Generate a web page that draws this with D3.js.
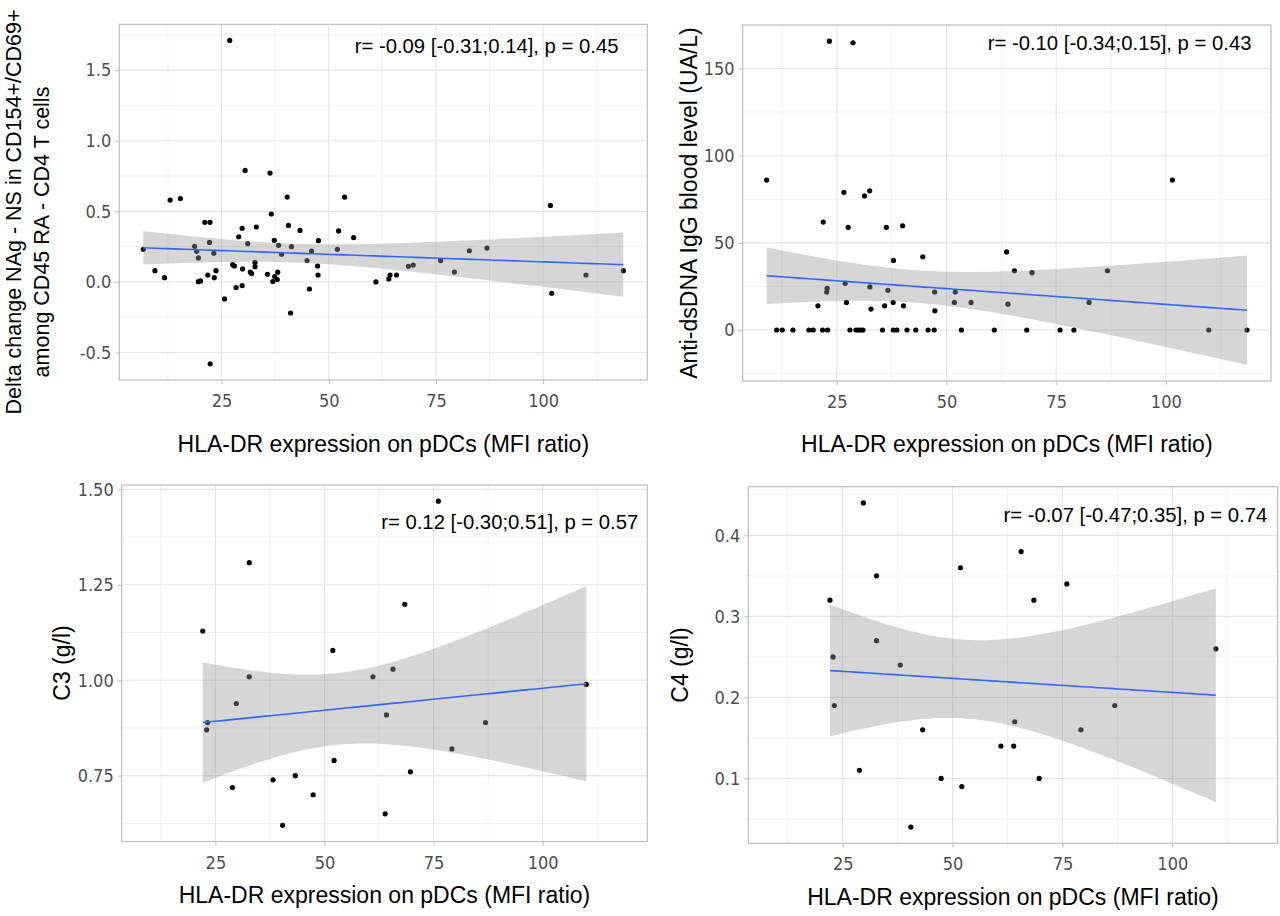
<!DOCTYPE html>
<html><head><meta charset="utf-8">
<script src="https://cdn.jsdelivr.net/npm/d3@7"></script>
<style>
html,body{margin:0;padding:0;background:#fff;}
svg{display:block;}
.tick-lab{font-family:'DejaVu Sans Condensed','DejaVu Sans',sans-serif;font-stretch:condensed;font-size:18px;fill:#4d4d4d;}
.ttl{font-family:'Liberation Sans',Arial,sans-serif;fill:#000;}
.ann{font-family:'Liberation Sans',Arial,sans-serif;font-size:20.3px;fill:#000;}
</style></head>
<body>
<svg id="chart" width="1280" height="916"></svg>
<script>
// ---------- DATA ----------
const xTickValues = [25, 50, 75, 100];
const xTitleText = "HLA-DR expression on pDCs (MFI ratio)";

// Panel A: Delta change NAg - NS
const deltaX = [6.75,9.47,11.7,13.0,15.4,18.7,19.2,19.6,19.6,20.1,21.1,22.3,22.2,23.2,21.8,23.3,23.7,22.35,26.9,25.7,27.6,28.0,28.4,29.0,29.8,29.9,29.8,30.5,31.1,31.7,32.0,32.8,32.8,33.1,35.7,36.3,36.6,37.3,36.96,37.4,38.0,38.1,38.3,39.0,40.3,40.6,41.1,41.3,43.3,44.95,45.5,46.0,47.6,47.4,47.5,52.0,52.3,53.7,55.8,61.0,64.0,64.3,65.8,68.6,69.7,76.1,79.3,82.8,86.9,101.7,102.0,110.0,118.7];
const deltaY = [0.231,0.08,0.03,0.58,0.59,0.252,0.217,0.17,0.002,0.007,0.422,0.422,0.28,0.203,0.049,0.03,0.08,-0.58,1.71,-0.12,0.122,0.113,-0.04,0.32,0.38,0.092,-0.026,0.79,0.271,0.07,0.059,0.139,0.108,0.389,0.054,0.771,0.481,0.295,0.003,0.038,0.017,0.069,0.259,0.196,0.601,0.40,-0.22,0.25,0.365,0.151,-0.05,0.219,0.292,0.113,0.049,0.231,0.361,0.601,0.314,0.0,0.021,0.049,0.049,0.111,0.12,0.151,0.07,0.221,0.24,0.542,-0.08,0.049,0.08];
const deltaYTicks = [-0.5, 0, 0.5, 1.0, 1.5];
const deltaYTickLabels = ["-0.5","0.0","0.5","1.0","1.5"];
const deltaYTitle = ["Delta change NAg - NS  in CD154+/CD69+", "among CD45 RA - CD4 T cells"];

// Panel B: anti-dsDNA IgG
const dsdnaX = [11.28,12.57,15.0,18.65,19.63,21.76,22.9,28.0,29.36,29.9,30.5,30.96,35.4,37.87,38.7,41.0,43.0,45.8,47.2,53.4,60.9,68.3,75.9,79.05,109.8,118.5,
  9.0,23.3,28.7,26.6,31.3,32.5,21.9,27.6,36.3,40.0,37.9,44.6,26.9,22.8,22.7,32.55,36.65,47.3,52.0,20.7,27.2,32.8,35.9,37.85,40.2,47.35,51.8,55.6,63.7,65.5,64.0,69.5,86.7,82.5,101.5];
const dsdnaY = [0,0,0,0,0,0,0,0,0,0,0,0,0,0,0,0,0,0,0,0,0,0,0,0,0,0,
  86.0,165.7,164.8,79.0,76.9,79.9,61.9,58.9,58.9,59.8,39.9,42.0,26.8,23.9,21.8,24.7,22.8,21.8,21.8,13.9,15.8,12.0,13.9,15.8,13.9,11.0,15.8,15.8,44.8,34.0,14.8,32.9,34.0,15.8,86.0];
const dsdnaYTicks = [0, 50, 100, 150];
const dsdnaYTickLabels = ["0","50","100","150"];
const dsdnaYTitle = ["Anti-dsDNA IgG blood level (UA/L)"];

// Panel C: C3
const c3X = [22.1,32.75,32.75,29.8,23.2,23.0,28.9,38.2,43.3,40.4,47.4,51.9,52.2,61.1,65.7,64.2,63.9,68.4,69.7,76.1,79.2,86.9,110.0];
const c3Y = [1.129,1.308,1.009,0.939,0.889,0.87,0.719,0.739,0.75,0.62,0.70,1.078,0.79,1.009,1.029,0.909,0.65,1.199,0.76,1.469,0.82,0.889,0.989];
const c3YTicks = [0.75, 1.00, 1.25, 1.50];
const c3YTickLabels = ["0.75","1.00","1.25","1.50"];
const c3YTitle = ["C3 (g/l)"];

// Panel D: C4
const c4X = [29.7,22.1,32.7,51.8,65.6,32.7,22.8,38.1,23.1,43.2,28.8,47.4,52.1,40.5,61.0,63.9,64.15,68.5,76.0,109.9,86.9,79.2,69.7];
const c4Y = [0.44,0.32,0.35,0.36,0.38,0.27,0.25,0.24,0.19,0.16,0.11,0.10,0.09,0.04,0.14,0.14,0.17,0.32,0.34,0.26,0.19,0.16,0.10];
const c4YTicks = [0.1, 0.2, 0.3, 0.4];
const c4YTickLabels = ["0.1","0.2","0.3","0.4"];
const c4YTitle = ["C4 (g/l)"];

const annotationTexts = [
  "r= -0.09 [-0.31;0.14], p = 0.45",
  "r= -0.10 [-0.34;0.15], p = 0.43",
  "r= 0.12 [-0.30;0.51], p = 0.57",
  "r= -0.07 [-0.47;0.35], p = 0.74"
];

// ---------- LAYOUT ----------
const panels = [
  {x: deltaX, y: deltaY, xTrain: deltaX, yTicks: deltaYTicks, yLab: deltaYTickLabels, yTitle: deltaYTitle, ann: annotationTexts[0],
   box:{l:119.3, r:647.3, t:24.3, b:380}, annX:618.5, annY:52.5, xTitleY:451.5,
   yTitlePos:[{x:21, y:212, fs:21.5},{x:49, y:232, fs:21.5}]},
  {x: dsdnaX, y: dsdnaY, xTrain: dsdnaX, yTicks: dsdnaYTicks, yLab: dsdnaYTickLabels, yTitle: dsdnaYTitle, ann: annotationTexts[1],
   box:{l:742.6, r:1271, t:25, b:381}, annX:1251.5, annY:49.5, xTitleY:452,
   yTitlePos:[{x:697, y:203, fs:23}]},
  {x: c3X, y: c3Y, xTrain: dsdnaX, yTicks: c3YTicks, yLab: c3YTickLabels, yTitle: c3YTitle, ann: annotationTexts[2],
   box:{l:121.7, r:647.3, t:485, b:841.5}, annX:638.3, annY:529, xTitleY:903,
   yTitlePos:[{x:70, y:663, fs:23}]},
  {x: c4X, y: c4Y, xTrain: dsdnaX, yTicks: c4YTicks, yLab: c4YTickLabels, yTitle: c4YTitle, ann: annotationTexts[3],
   box:{l:748.3, r:1277.7, t:486.7, b:843.3}, annX:1267.3, annY:521.7, xTitleY:905,
   yTitlePos:[{x:688, y:665, fs:23}]}
];

// t quantile (0.975) via Cornish-Fisher expansion
function tQuant(df){
  const z = 1.959964, z3=z*z*z, z5=z3*z*z, z7=z5*z*z;
  const g1=(z3+z)/4, g2=(5*z5+16*z3+3*z)/96, g3=(3*z7+19*z5+17*z3-15*z)/384;
  return z + g1/df + g2/(df*df) + g3/(df*df*df);
}
// linear model smoother like geom_smooth(method="lm")
function lmBand(xs, ys){
  const n = xs.length, mx = d3.mean(xs), my = d3.mean(ys);
  let sxx=0, sxy=0;
  for(let i=0;i<n;i++){ sxx += (xs[i]-mx)**2; sxy += (xs[i]-mx)*(ys[i]-my); }
  const b = sxy/sxx, a = my - b*mx;
  let rss=0; for(let i=0;i<n;i++){ rss += (ys[i]-a-b*xs[i])**2; }
  const s = Math.sqrt(rss/(n-2)), t = tQuant(n-2);
  const [x0,x1] = d3.extent(xs);
  return d3.range(80).map(k=>{
    const xv = x0 + (x1-x0)*k/79;
    const f = a + b*xv;
    const se = s*Math.sqrt(1/n + (xv-mx)**2/sxx);
    return {x:xv, fit:f, lo:f - t*se, hi:f + t*se};
  });
}
function expand(ext){ const d = ext[1]-ext[0]; return [ext[0]-0.05*d, ext[1]+0.05*d]; }
function minorBreaks(majors, dom){
  const step = majors[1]-majors[0];
  let b = majors.slice();
  if (dom[0] < b[0]) b.unshift(b[0]-step);
  if (dom[1] > b[b.length-1]) b.push(b[b.length-1]+step);
  const m = [];
  for(let i=0;i<b.length-1;i++){ const v=(b[i]+b[i+1])/2; if(v>=dom[0] && v<=dom[1]) m.push(v); }
  return m;
}

const svg = d3.select("#chart");
svg.append("rect").attr("width",1280).attr("height",916).attr("fill","#fff");

panels.forEach(p=>{
  const band = lmBand(p.x, p.y);
  const xDom = expand(d3.extent(p.xTrain));
  const yDom = expand([Math.min(d3.min(p.y), d3.min(band, d=>d.lo)), Math.max(d3.max(p.y), d3.max(band, d=>d.hi))]);
  const xs = d3.scaleLinear().domain(xDom).range([p.box.l, p.box.r]);
  const ys = d3.scaleLinear().domain(yDom).range([p.box.b, p.box.t]);
  const g = svg.append("g");

  // minor grid
  const xMin = minorBreaks(xTickValues, xDom), yMin = minorBreaks(p.yTicks, yDom);
  g.selectAll(null).data(xMin).join("line")
    .attr("x1", d=>xs(d)).attr("x2", d=>xs(d)).attr("y1", p.box.t).attr("y2", p.box.b)
    .attr("stroke","#f1f1f1").attr("stroke-width",1);
  g.selectAll(null).data(yMin).join("line")
    .attr("y1", d=>ys(d)).attr("y2", d=>ys(d)).attr("x1", p.box.l).attr("x2", p.box.r)
    .attr("stroke","#f1f1f1").attr("stroke-width",1);
  // major grid
  g.selectAll(null).data(xTickValues.filter(v=>v>=xDom[0]&&v<=xDom[1])).join("line")
    .attr("x1", d=>xs(d)).attr("x2", d=>xs(d)).attr("y1", p.box.t).attr("y2", p.box.b)
    .attr("stroke","#e4e4e4").attr("stroke-width",1.1);
  g.selectAll(null).data(p.yTicks).join("line")
    .attr("y1", d=>ys(d)).attr("y2", d=>ys(d)).attr("x1", p.box.l).attr("x2", p.box.r)
    .attr("stroke","#e4e4e4").attr("stroke-width",1.1);

  // points
  g.selectAll(null).data(p.x.map((v,i)=>[v,p.y[i]])).join("circle")
    .attr("cx", d=>xs(d[0])).attr("cy", d=>ys(d[1])).attr("r",2.6).attr("fill","#000");

  // ribbon + fit
  g.append("path").datum(band)
    .attr("d", d3.area().x(d=>xs(d.x)).y0(d=>ys(d.lo)).y1(d=>ys(d.hi)))
    .attr("fill","#999999").attr("fill-opacity",0.4);
  g.append("path").datum(band)
    .attr("d", d3.line().x(d=>xs(d.x)).y(d=>ys(d.fit)))
    .attr("fill","none").attr("stroke","#3366FF").attr("stroke-width",1.6);

  // border
  g.append("rect").attr("x",p.box.l).attr("y",p.box.t)
    .attr("width",p.box.r-p.box.l).attr("height",p.box.b-p.box.t)
    .attr("fill","none").attr("stroke","#bdbdbd").attr("stroke-width",1.2);

  // axes
  const xAxis = d3.axisBottom(xs).tickValues(xTickValues).tickSize(4).tickPadding(6).tickFormat(d3.format("d"));
  const xg = g.append("g").attr("transform",`translate(0,${p.box.b})`).call(xAxis);
  xg.select(".domain").remove();
  xg.selectAll(".tick line").attr("stroke","#bdbdbd");
  xg.selectAll(".tick text").attr("class","tick-lab").attr("fill",null).attr("dy","0.95em");

  const yAxis = d3.axisLeft(ys).tickValues(p.yTicks).tickSize(4).tickPadding(4).tickFormat((d,i)=>p.yLab[i]);
  const yg = g.append("g").attr("transform",`translate(${p.box.l},0)`).call(yAxis);
  yg.select(".domain").remove();
  yg.selectAll(".tick line").attr("stroke","#bdbdbd");
  yg.selectAll(".tick text").attr("class","tick-lab").attr("fill",null);

  // annotation
  g.append("text").attr("class","ann").attr("x",p.annX).attr("y",p.annY).attr("text-anchor","end").text(p.ann);

  // titles
  g.append("text").attr("class","ttl").attr("x",(p.box.l+p.box.r)/2).attr("y",p.xTitleY)
    .attr("text-anchor","middle").style("font-size","23px").text(xTitleText);
  p.yTitle.forEach((t,i)=>{
    const pos = p.yTitlePos[i];
    g.append("text").attr("class","ttl").attr("transform",`translate(${pos.x},${pos.y}) rotate(-90)`)
      .attr("text-anchor","middle").style("font-size",pos.fs+"px").text(t);
  });
});
</script>
</body></html>
